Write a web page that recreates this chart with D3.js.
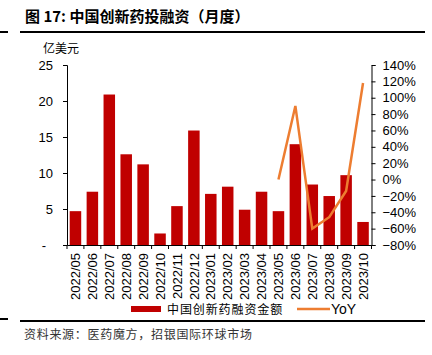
<!DOCTYPE html>
<html><head><meta charset="utf-8">
<script src="https://cdn.jsdelivr.net/npm/d3@7"></script>
<style>
html,body{margin:0;padding:0;background:#fff;}
svg{display:block;}
text{font-family:"Liberation Sans",Arial,"Noto Sans CJK SC",sans-serif;}
.cjk{font-family:"Noto Sans CJK SC","Liberation Sans",sans-serif;}
</style>
</head><body>
<svg id="chart" width="432" height="355"></svg>
<script>
const categories = ["2022/05","2022/06","2022/07","2022/08","2022/09","2022/10","2022/11","2022/12","2023/01","2023/02","2023/03","2023/04","2023/05","2023/06","2023/07","2023/08","2023/09","2023/10"];
const financing = [4.7,7.4,20.9,12.6,11.2,1.6,5.4,15.9,7.1,8.1,4.9,7.4,4.7,14.0,8.4,6.8,9.7,3.2];
const yoy = [null,null,null,null,null,null,null,null,null,null,null,null,0.0,0.90,-0.60,-0.46,-0.14,1.18];
const leftTicks = [0,5,10,15,20,25];
const rightTicks = [-0.8,-0.6,-0.4,-0.2,0,0.2,0.4,0.6,0.8,1.0,1.2,1.4];
const title = "图 17: 中国创新药投融资（月度）";
const unitLabel = "亿美元";
const barName = "中国创新药融资金额";
const lineName = "YoY";
const source = "资料来源：医药魔方，招银国际环球市场";

const svg = d3.select("#chart");
const L = 67, R = 371.5, T = 65, B = 245;
const x = d3.scaleBand().domain(categories).range([L, R]).paddingInner(0.32).paddingOuter(0.16);
const yL = d3.scaleLinear().domain([0, 25]).range([B, T]);
const yR = d3.scaleLinear().domain([-0.8, 1.4]).range([B, T]);

// header
svg.append("line").attr("x1",0).attr("x2",8).attr("y1",32).attr("y2",32).attr("stroke","#000").attr("stroke-width",2);
svg.append("line").attr("x1",20).attr("x2",425).attr("y1",32).attr("y2",32).attr("stroke","#000").attr("stroke-width",2);
svg.append("text").attr("class","cjk").attr("x",25).attr("y",22).attr("font-size",15).attr("font-weight","bold").attr("fill","#000").text(title);
svg.append("text").attr("class","cjk").attr("x",43).attr("y",53).attr("font-size",12).attr("fill","#000").text(unitLabel);

// bars
svg.append("g").selectAll("rect").data(categories).join("rect")
  .attr("x", d => x(d)).attr("width", x.bandwidth())
  .attr("y", (d,i) => yL(financing[i])).attr("height", (d,i) => yL(0) - yL(financing[i]))
  .attr("fill", "#C00000");

// line
const line = d3.line().defined(d => d.v !== null).x(d => x(d.c) + x.bandwidth()/2).y(d => yR(d.v));
svg.append("path").datum(categories.map((c,i) => ({c, v: yoy[i]})))
  .attr("d", line).attr("fill","none").attr("stroke","#ED7D31").attr("stroke-width",2.5).attr("stroke-linejoin","miter");

// left axis
const gl = svg.append("g").attr("transform", `translate(${L},0)`)
  .call(d3.axisLeft(yL).tickValues(leftTicks).tickSize(4).tickPadding(10).tickFormat(d => d === 0 ? "-" : d3.format("d")(d)));
gl.selectAll("text").attr("font-size",13).attr("font-family","'Liberation Sans',Arial,sans-serif").attr("fill","#000");
gl.selectAll(".tick").filter(d => d === 0).select("text").attr("x", -21);
gl.selectAll("line,path").attr("stroke","#000");

// right axis
const gr = svg.append("g").attr("transform", `translate(${R},0)`)
  .call(d3.axisRight(yR).tickValues(rightTicks).tickSize(4).tickPadding(7).tickFormat(d3.format(".0%")));
gr.selectAll("text").attr("font-size",13).attr("font-family","'Liberation Sans',Arial,sans-serif").attr("fill","#000");
gr.selectAll("line,path").attr("stroke","#000");

// x axis
const gx = svg.append("g").attr("transform", `translate(0,${B})`)
  .call(d3.axisBottom(x).tickSize(0).tickSizeOuter(0));
gx.select(".domain").attr("stroke","#000");
gx.selectAll("text").attr("font-size",13).attr("font-family","'Liberation Sans',Arial,sans-serif").attr("fill","#000")
  .attr("transform","rotate(-90)").attr("x",-8).attr("y",0).attr("dy","0.36em").style("text-anchor","end");
const bounds = categories.map(c => x(c) + x.bandwidth()/2 - x.step()/2).concat([x(categories[categories.length-1]) + x.bandwidth()/2 + x.step()/2]);
svg.append("g").selectAll("line").data(bounds).join("line")
  .attr("x1", d => d).attr("x2", d => d).attr("y1", B).attr("y2", B + 4).attr("stroke","#000");

// legend
svg.append("rect").attr("x",131).attr("y",306).attr("width",30).attr("height",6).attr("fill","#C00000");
svg.append("text").attr("class","cjk").attr("x",167).attr("y",313.5).attr("font-size",12).attr("letter-spacing","0.9px").attr("fill","#000").text(barName);
svg.append("line").attr("x1",297).attr("x2",330).attr("y1",309).attr("y2",309).attr("stroke","#ED7D31").attr("stroke-width",2.5);
svg.append("text").attr("x",331).attr("y",314).attr("font-size",14).attr("fill","#000").text(lineName);

// footer
svg.append("line").attr("x1",0).attr("x2",8).attr("y1",319).attr("y2",319).attr("stroke","#000").attr("stroke-width",2);
svg.append("line").attr("x1",20).attr("x2",425).attr("y1",321).attr("y2",321).attr("stroke","#000").attr("stroke-width",2);
svg.append("text").attr("class","cjk").attr("x",24).attr("y",339).attr("font-size",12).attr("letter-spacing","0.7px").attr("fill","#333").text(source);
</script>
</body></html>
